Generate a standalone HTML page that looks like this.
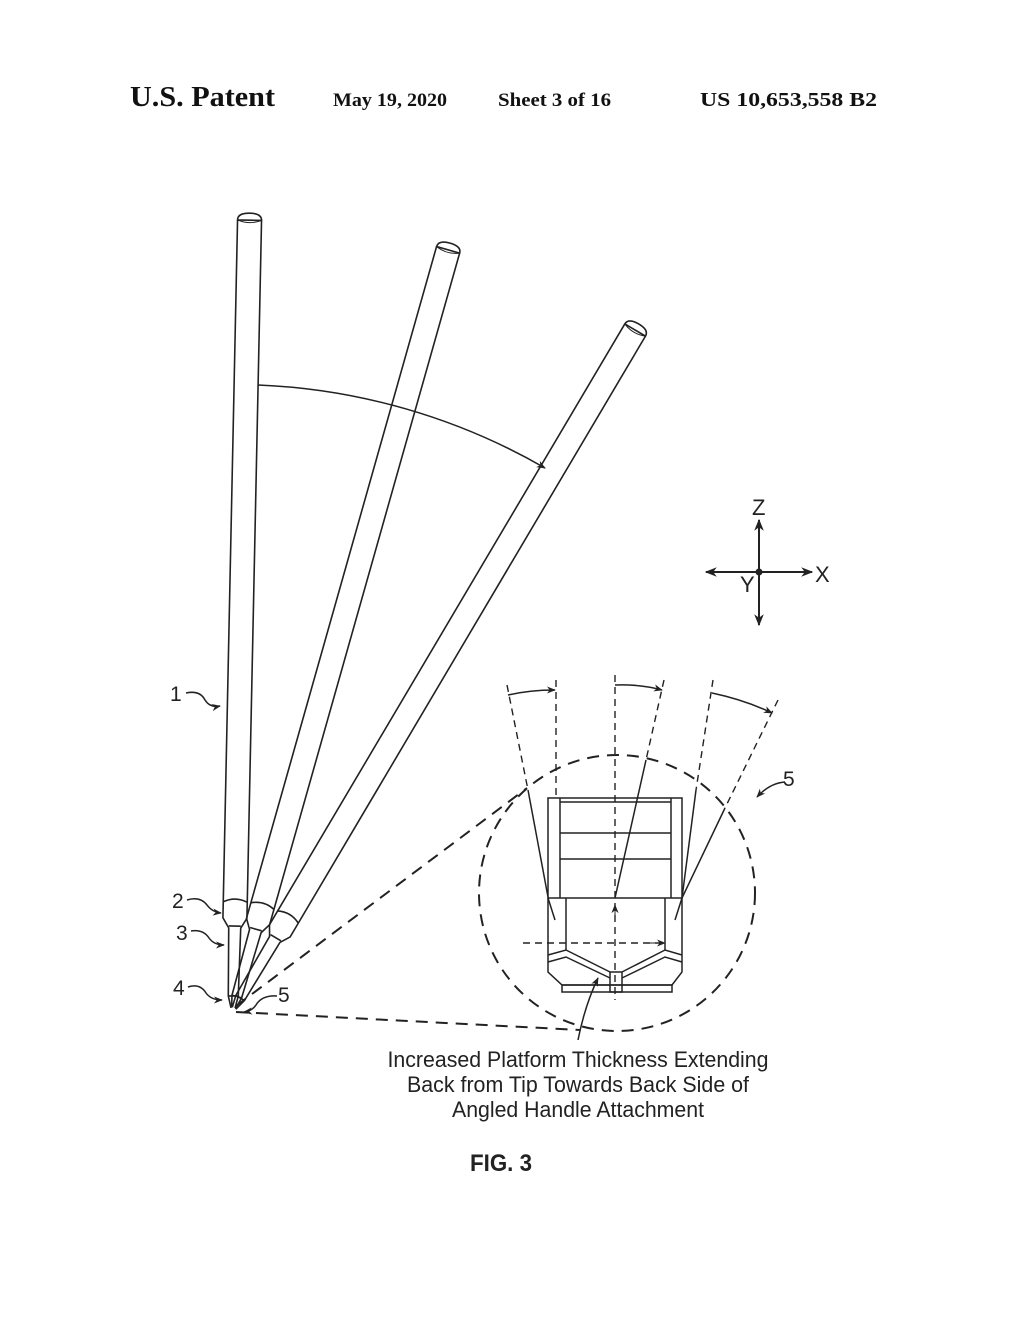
<!DOCTYPE html>
<html><head><meta charset="utf-8"><style>
html,body{margin:0;padding:0;background:#fff;}
svg{display:block}
</style></head><body>
<svg width="1020" height="1320" viewBox="0 0 1020 1320" xmlns="http://www.w3.org/2000/svg">
<defs>
<marker id="ah" viewBox="0 0 10 10" refX="9" refY="5" markerWidth="9" markerHeight="9" orient="auto" markerUnits="userSpaceOnUse"><path d="M0,1 L10,5 L0,9 L3,5 Z" fill="#222"/></marker>
<marker id="ahs" viewBox="0 0 10 10" refX="9" refY="5" markerWidth="12" markerHeight="12" orient="auto" markerUnits="userSpaceOnUse"><path d="M0,1 L10,5 L0,9 L3,5 Z" fill="#222"/></marker>
<g id="rod" fill="none" stroke="#222" stroke-width="1.6">
  <path d="M-2,-2 L-5,-14 L-6,-82 L-12,-92 L-12,-108 L-12,-790 M2,-2 L5,-14 L6,-82 L12,-92 L12,-108 L12,-790"/>
  <path d="M-12,-790 Q-12,-797 0,-797 Q12,-797 12,-790 Z"/>
  <path d="M-12,-790 Q0,-785 12,-790" stroke-width="1"/>
  <path d="M-12,-108 Q0,-114 12,-108"/>
  <path d="M-6,-84 L6,-84"/>
  <path d="M-5,-14 L5,-14"/>
</g>
</defs>

<g font-family="Liberation Serif, serif" font-weight="bold" fill="#111">
<text x="130" y="106" font-size="29" textLength="145" lengthAdjust="spacingAndGlyphs">U.S. Patent</text>
<text x="333" y="106" font-size="19" textLength="114" lengthAdjust="spacingAndGlyphs">May 19, 2020</text>
<text x="498" y="106" font-size="19" textLength="113" lengthAdjust="spacingAndGlyphs">Sheet 3 of 16</text>
<text x="700" y="106" font-size="20" textLength="177" lengthAdjust="spacingAndGlyphs">US 10,653,558 B2</text>
</g>

<use href="#rod" transform="translate(233,1010) rotate(1.2)"/>
<use href="#rod" transform="translate(233,1010) rotate(15.8)"/>
<use href="#rod" transform="translate(233,1010) rotate(30.6)"/>

<path d="M258,385 A624,624 0 0 1 545,468" fill="none" stroke="#222" stroke-width="1.5" marker-end="url(#ah)"/>

<g stroke="#222" stroke-width="2" fill="none">
<line x1="759" y1="572" x2="759" y2="520" marker-end="url(#ahs)"/>
<line x1="759" y1="572" x2="759" y2="625" marker-end="url(#ahs)"/>
<line x1="759" y1="572" x2="812" y2="572" marker-end="url(#ahs)"/>
<line x1="759" y1="572" x2="706" y2="572" marker-end="url(#ahs)"/>
</g>
<circle cx="759" cy="572" r="3.5" fill="#222"/>
<g font-family="Liberation Sans, sans-serif" font-size="22" fill="#222">
<text x="752" y="515">Z</text>
<text x="815" y="582">X</text>
<text x="740" y="592">Y</text>
</g>

<g stroke="#222" stroke-width="2" stroke-dasharray="12,8" fill="none">
<line x1="236" y1="1006" x2="527" y2="788"/>
<line x1="236" y1="1012" x2="580" y2="1030"/>
<circle cx="617" cy="893" r="138"/>
</g>

<g stroke="#222" stroke-width="1.4" stroke-dasharray="7,5" fill="none">
<line x1="507" y1="685" x2="528" y2="790"/>
<line x1="556" y1="680" x2="556" y2="798"/>
<line x1="615" y1="675" x2="615" y2="1000"/>
<line x1="664" y1="680" x2="646" y2="760"/>
<line x1="713" y1="680" x2="696" y2="790"/>
<line x1="778" y1="700" x2="725" y2="808"/>
<line x1="523" y1="943" x2="662" y2="943"/>
</g>
<line x1="615" y1="920" x2="615" y2="905" stroke="#222" marker-end="url(#ah)"/>
<line x1="650" y1="943" x2="665" y2="943" stroke="#222" marker-end="url(#ah)"/>
<g stroke="#222" stroke-width="1.5" fill="none">
<line x1="528" y1="790" x2="548" y2="897"/>
<line x1="646" y1="760" x2="615" y2="898"/>
<line x1="696" y1="790" x2="682" y2="898"/>
<line x1="725" y1="808" x2="682" y2="898"/>
<path d="M508,695 Q530,690 555,690" marker-end="url(#ah)"/>
<path d="M615,685 Q640,684 662,690" marker-end="url(#ah)"/>
<path d="M712,693 Q745,700 772,713" marker-end="url(#ah)"/>
<rect x="548" y="798" width="134" height="100"/>
<line x1="560" y1="798" x2="560" y2="898"/>
<line x1="671" y1="798" x2="671" y2="898"/>
<line x1="560" y1="802" x2="671" y2="802"/>
<line x1="560" y1="833" x2="671" y2="833"/>
<line x1="560" y1="859" x2="671" y2="859"/>
<path d="M548,898 L548,972 L562,985 L672,985 L682,972 L682,898"/>
<line x1="566" y1="898" x2="566" y2="950"/>
<line x1="665" y1="898" x2="665" y2="950"/>
<path d="M548,898 L555,920 M682,898 L675,920"/>
<path d="M548,955 L566,950 L610,972 M548,962 L566,957 L610,978"/>
<path d="M682,955 L665,950 L622,972 M682,962 L665,957 L622,978"/>
<rect x="610" y="972" width="12" height="20"/>
<rect x="562" y="985" width="110" height="7"/>
<path d="M578,1040 Q585,1005 598,978" marker-end="url(#ah)"/>
<path d="M785,782 Q770,783 757,797" marker-end="url(#ah)"/>
<path d="M186,693 Q200,690 205,700 Q210,708 220,706" marker-end="url(#ah)"/>
<path d="M187,900 Q200,896 207,905 Q212,912 221,913" marker-end="url(#ah)"/>
<path d="M191,931 Q203,929 209,938 Q214,945 224,945" marker-end="url(#ah)"/>
<path d="M188,987 Q200,983 206,993 Q211,1000 222,1000" marker-end="url(#ah)"/>
<path d="M277,996 Q262,995 256,1005 Q252,1011 244,1012" marker-end="url(#ah)"/>
</g>
<g font-family="Liberation Sans, sans-serif" font-size="21" fill="#222">
<text x="783" y="786">5</text>
<text x="170" y="701">1</text>
<text x="172" y="908">2</text>
<text x="176" y="940">3</text>
<text x="173" y="995">4</text>
<text x="278" y="1002">5</text>
</g>
<g font-family="Liberation Sans Narrow, Liberation Sans, sans-serif" font-size="22" fill="#222" text-anchor="middle">
<text x="578" y="1067" textLength="381" lengthAdjust="spacingAndGlyphs">Increased Platform Thickness Extending</text>
<text x="578" y="1092" textLength="342" lengthAdjust="spacingAndGlyphs">Back from Tip Towards Back Side of</text>
<text x="578" y="1117" textLength="252" lengthAdjust="spacingAndGlyphs">Angled Handle Attachment</text>
<text x="501" y="1171" font-weight="bold" font-size="24" textLength="62" lengthAdjust="spacingAndGlyphs">FIG. 3</text>
</g>
</svg>
</body></html>
